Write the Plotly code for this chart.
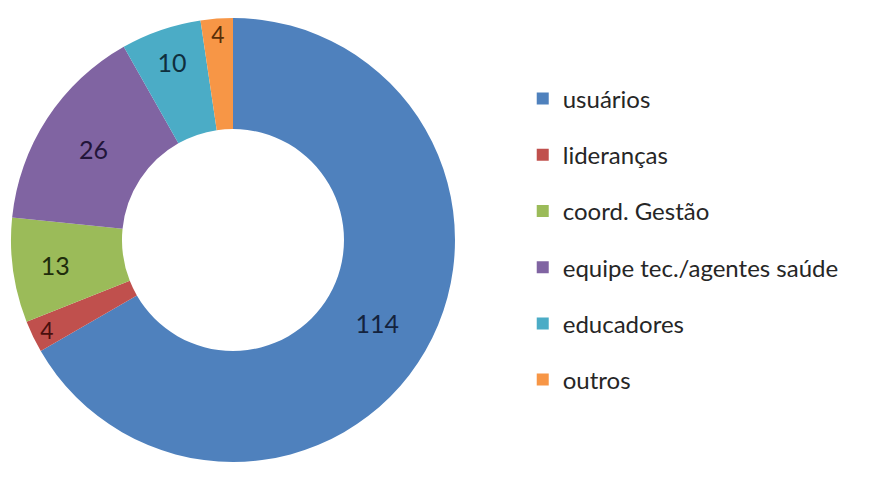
import plotly.graph_objects as go

labels = ["usuários", "lideranças", "coord. Gestão", "equipe tec./agentes saúde", "educadores", "outros"]
values = [114, 4, 13, 26, 10, 4]
colors = ["#4F81BD", "#C0504D", "#9BBB59", "#8064A2", "#4BACC6", "#F79646"]
text_colors = ["#14233d", "#4a0f0e", "#1f2c0c", "#22153a", "#0f2f3d", "#5a2e06"]

fig = go.Figure()
fig.add_trace(go.Pie(
    labels=labels, values=values, hole=0.5, sort=False, direction="clockwise",
    rotation=0, marker=dict(colors=colors, line=dict(width=0)),
    textinfo="value", textposition="inside", insidetextorientation="horizontal",
    textfont=dict(family="Lato", size=25, color=text_colors),
    showlegend=False,
    domain=dict(x=[11/883, 455/883], y=[17/479, 461/479]),
))
for lab, col in zip(labels, colors):
    fig.add_trace(go.Scatter(
        x=[None], y=[None], mode="markers", name=lab, legendgroup=lab,
        marker=dict(symbol="square", size=11, color=col),
    ))

fig.update_layout(
    width=883, height=479, margin=dict(l=0, r=0, t=0, b=0),
    paper_bgcolor="white", plot_bgcolor="white",
    xaxis=dict(visible=False), yaxis=dict(visible=False),
    legend=dict(x=0.592, y=0.5, xanchor="left", yanchor="middle",
                font=dict(family="Lato", size=24, color="#262626"),
                tracegroupgap=22, itemsizing="constant"),
)
fig.write_html("out.html")
